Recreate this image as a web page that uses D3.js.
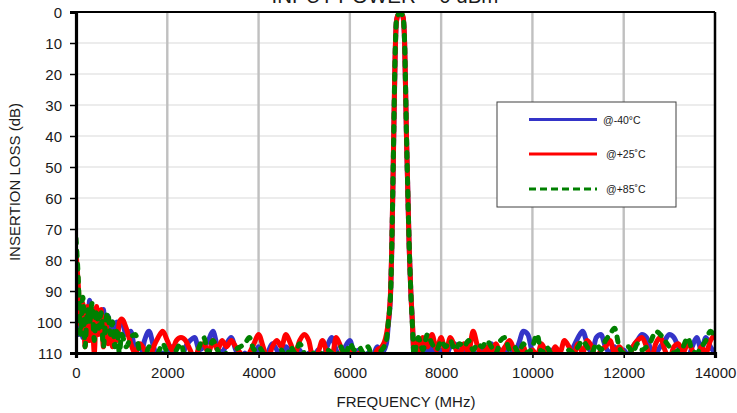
<!DOCTYPE html>
<html>
<head>
<meta charset="utf-8">
<script src="https://cdn.jsdelivr.net/npm/d3@7"></script>
<style>
  html, body { margin: 0; padding: 0; background: #fff; }
  svg { display: block; font-family: Arial, "Liberation Sans", sans-serif; }
</style>
</head>
<body>
<svg id="chart" width="737" height="413"></svg>
<script>
// Frequency sample points (MHz): dense near DC, fine through the passband
const freqMHz = [
  0,50,100,150,200,250,300,350,400,450,500,550,600,650,700,750,800,850,900,950,1000,
  1100,1200,1300,1400,1500,1600,1700,1800,1900,2000,2100,2200,2300,2400,2500,2600,2700,2800,2900,3000,
  3100,3200,3300,3400,3500,3600,3700,3800,3900,4000,4100,4200,4300,4400,4500,4600,4700,4800,4900,5000,
  5100,5200,5300,5400,5500,5600,5700,5800,5900,6000,6100,6200,6300,6400,6500,6600,6700,6800,
  6842,6895,6920,6955,6990,7020,7060,7100,7140,7170,7200,7240,7300,7335,7370,7405,
  7450,7500,7600,7700,7800,7900,8000,8100,8200,8300,8400,8500,8600,8700,8800,8900,9000,
  9100,9200,9300,9400,9500,9600,9700,9800,9900,10000,10100,10200,10300,10400,10500,10600,10700,10800,10900,11000,
  11100,11200,11300,11400,11500,11600,11700,11800,11900,12000,12100,12200,12300,12400,12500,12600,12700,12800,12900,13000,
  13100,13200,13300,13400,13500,13600,13700,13800,13900,14000
];

// Insertion loss (dB) at -40 °C
const lossM40 = [
  84,104,95,105,96,103,93,101,96,104,97,103,96,105,98,104,100,103,100,101,100,
  104,103,110,112,106,103,108,112,110,112,108,111,112,108,106,105,109,108,106,103,
  108,110,107,105,109,112,110,112,111,108,112,110,107,109,112,108,110,112,109,112,
  110,112,109,112,108,105,109,112,108,106,110,109,112,110,111,108,110,107,
  101,90,76,46,16,3,0.9,0.5,0.8,2,10,40,76,90,100,111,
  107,110,107,110,108,112,109,111,108,107,110,108,111,109,112,108,110,
  107,111,109,110,108,110,107,103,104,110,112,108,111,109,112,110,112,110,108,105,
  103,107,110,105,104,108,110,108,112,109,111,108,106,104,105,109,110,108,106,104,
  105,108,110,112,108,105,109,105,108,110
];

// Insertion loss (dB) at +25 °C
const lossP25 = [
  77,88,101,94,108,95,106,96,110,95,104,96,108,99,107,103,108,104,106,100,99,
  102,107,110,107,109,112,108,105,103,106,109,106,105,106,109,112,108,107,110,106,
  109,106,108,106,108,110,112,110,107,104,108,112,108,106,108,104,107,110,106,104,
  106,112,110,106,110,112,105,108,112,109,112,110,112,111,112,109,108,104,
  100,89,75,45,15,3,0.8,0.4,0.7,2,10,40,76,90,100,110,
  106,110,105,108,104,109,105,110,105,108,111,107,110,103,108,111,108,
  110,107,110,108,106,109,111,108,112,109,111,107,110,112,108,110,106,108,111,107,
  110,106,108,112,109,108,106,110,108,110,112,108,106,105,108,112,107,105,109,112,
  108,107,110,107,109,112,108,110,106,104
];

// Insertion loss (dB) at +85 °C
const lossP85 = [
  73,86,104,92,108,96,100,94,106,96,102,97,108,100,97,104,100,108,102,110,104,
  108,105,104,110,112,108,112,110,107,110,112,109,107,112,110,112,108,105,110,106,
  109,112,110,112,109,108,107,105,109,108,110,112,110,112,109,112,108,110,107,110,
  112,110,112,110,109,110,112,108,111,107,109,108,110,108,112,110,109,106,
  100,90,75,45,15,2.8,0.8,0.4,0.7,2,10,39,75,90,101,111,
  108,105,109,104,107,109,106,108,106,109,107,108,106,109,107,108,106,
  108,110,106,105,109,108,110,107,110,108,104,110,108,110,112,110,112,109,110,108,
  106,108,110,107,109,106,104,102,108,110,108,110,107,109,108,106,103,104,106,108,
  110,109,108,105,109,110,108,106,103,105
];

const xTicks = [0,2000,4000,6000,8000,10000,12000,14000];
const yTicks = [0,10,20,30,40,50,60,70,80,90,100,110];

const seriesNames = ["@-40°C", "@+25˚C", "@+85˚C"];
const seriesValues = [lossM40, lossP25, lossP85];
const seriesColors = ["#3434c8", "#ff0000", "#008000"];
const seriesDash = [null, null, "5,8"];

const svg = d3.select("#chart");
const plotLeft = 76, plotRight = 715, plotTop = 12, plotBottom = 353;

const x = d3.scaleLinear().domain([0, 14000]).range([plotLeft, plotRight]);
const y = d3.scaleLinear().domain([0, 110]).range([plotTop, plotBottom]);

// Horizontal gridlines
svg.append("g").selectAll("line").data(yTicks.slice(1, -1)).join("line")
  .attr("x1", plotLeft).attr("x2", plotRight)
  .attr("y1", d => y(d)).attr("y2", d => y(d))
  .attr("stroke", "#d9d9d9").attr("stroke-width", 1.2);

// Vertical gridlines
svg.append("g").selectAll("line").data(xTicks.slice(1, -1)).join("line")
  .attr("x1", d => x(d)).attr("x2", d => x(d))
  .attr("y1", plotTop).attr("y2", plotBottom)
  .attr("stroke", "#c0c0c0").attr("stroke-width", 2.4);

// Clip the traces to the plot area
svg.append("defs").append("clipPath").attr("id", "plotClip")
  .append("rect").attr("x", plotLeft).attr("y", plotTop)
  .attr("width", plotRight - plotLeft).attr("height", plotBottom - plotTop);

const line = d3.line()
  .x((d, i) => x(freqMHz[i]))
  .y(d => y(d))
  .curve(d3.curveMonotoneX);

const traces = svg.append("g").attr("clip-path", "url(#plotClip)");
seriesValues.forEach((vals, k) => {
  traces.append("path")
    .datum(vals)
    .attr("d", line)
    .attr("fill", "none")
    .attr("stroke", seriesColors[k])
    .attr("stroke-width", 5)
    .attr("stroke-linejoin", "round")
    .attr("stroke-linecap", seriesDash[k] ? "round" : "butt")
    .attr("stroke-dasharray", seriesDash[k]);
});

// Plot frame
svg.append("line").attr("x1", plotLeft).attr("x2", plotRight).attr("y1", plotTop).attr("y2", plotTop)
  .attr("stroke", "#000").attr("stroke-width", 2);
svg.append("line").attr("x1", plotRight).attr("x2", plotRight).attr("y1", plotTop).attr("y2", plotBottom)
  .attr("stroke", "#000").attr("stroke-width", 2.5);

// Axes
const yAxis = svg.append("g").attr("transform", `translate(${plotLeft},0)`)
  .call(d3.axisLeft(y).tickValues(yTicks).tickSize(6).tickPadding(8));
const xAxis = svg.append("g").attr("transform", `translate(0,${plotBottom})`)
  .call(d3.axisBottom(x).tickValues(xTicks).tickSize(5).tickPadding(9).tickFormat(d3.format("d")));

[yAxis, xAxis].forEach(g => {
  g.select(".domain").attr("stroke", "#000").attr("stroke-width", 3.2);
  g.selectAll(".tick line").attr("stroke", "#000").attr("stroke-width", 1.5);
  g.selectAll(".tick text").attr("fill", "#1a1a1a")
    .style("font-family", "Arial, 'Liberation Sans', sans-serif").style("font-size", "15px");
});
yAxis.selectAll(".tick text").attr("dy", "0.36em");

// Titles
svg.append("text").attr("x", 385).attr("y", 3).attr("text-anchor", "middle")
  .attr("fill", "#1a1a1a").style("font-size", "20.5px").text("INPUT POWER = 0 dBm");
svg.append("text").attr("x", 406).attr("y", 407).attr("text-anchor", "middle")
  .attr("fill", "#1a1a1a").style("font-size", "15px").text("FREQUENCY (MHz)");
svg.append("text").attr("transform", "translate(20,182) rotate(-90)").attr("text-anchor", "middle")
  .attr("fill", "#1a1a1a").style("font-size", "15px").text("INSERTION LOSS (dB)");

// Legend
const legend = svg.append("g");
legend.append("rect").attr("x", 497).attr("y", 102).attr("width", 179).attr("height", 105)
  .attr("fill", "#fff").attr("stroke", "#404040").attr("stroke-width", 1);
const legY = [119.5, 154, 189];
const legTextX = [603, 606, 606];
seriesNames.forEach((name, k) => {
  legend.append("line").attr("x1", 529).attr("x2", 597)
    .attr("y1", legY[k]).attr("y2", legY[k])
    .attr("stroke", seriesColors[k]).attr("stroke-width", 3)
    .attr("stroke-dasharray", seriesDash[k] ? "7,4" : null);
  legend.append("text").attr("x", legTextX[k]).attr("y", legY[k] + 4)
    .attr("fill", "#1a1a1a").style("font-size", "10.5px").text(name);
});
</script>
</body>
</html>
